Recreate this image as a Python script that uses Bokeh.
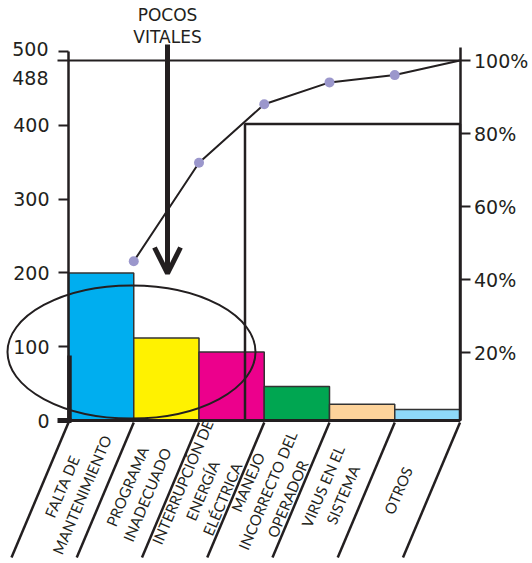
import math
from bokeh.plotting import figure
from bokeh.models import (LinearAxis, Range1d, FixedTicker, PrintfTickFormatter,
                          ColumnDataSource, Arrow, OpenHead)
from bokeh.core.properties import value
from bokeh.embed import file_html
from bokeh.resources import INLINE

# ---------------- data ----------------
categories = ["FALTA DE\nMANTENIMIENTO", "PROGRAMA\nINADECUADO",
              "INTERRUPCIÓN DE\nENERGÍA\nELÉCTRICA", "MANEJO\nINCORRECTO DEL\nOPERADOR",
              "VIRUS EN EL\nSISTEMA", "OTROS"]
counts = [200, 112, 93, 46, 22, 15]
cumulative_pct = [45, 72, 88, 94, 96, 100]
bar_colors = ["#00aeef", "#fff200", "#ec008c", "#00a651", "#fdd39b", "#8ed8f8"]
left_ticks = [0, 100, 200, 300, 400, 500]
total_count = 488
right_ticks = [20, 40, 60, 80, 100]
annotation_text = "POCOS\nVITALES"

# ---------------- layout constants ----------------
W, H = 532, 563
X0PX, XUNIT = 68.0, 65.25          # pixel of x=0, pixels per category
Y0PX, KY = 420.0, 360.0 / 488.0    # pixel of count 0, pixels per count
P0PX, KP = 425.0, 3.65             # pixel of 0 %, pixels per percent
INK = "#231f20"

x_range = Range1d(-X0PX / XUNIT, (W - X0PX) / XUNIT)
y_range = Range1d(-(H - Y0PX) / KY, Y0PX / KY)

p = figure(width=W, height=H, x_range=x_range, y_range=y_range,
           x_axis_type=None, y_axis_type=None, toolbar_location=None,
           output_backend="svg", min_border=0, outline_line_color=None,
           background_fill_color="white", border_fill_color="white")
p.grid.visible = False
p.extra_y_ranges = {"pct": Range1d(-(H - P0PX) / KP, P0PX / KP)}

def px_x(px):
    return (px - X0PX) / XUNIT

def px_y(px):
    return (Y0PX - px) / KY

n = len(counts)
idx = list(range(n))

# bars
src = ColumnDataSource(dict(left=idx, right=[i + 1 for i in idx], top=counts,
                            bottom=[0] * n, color=bar_colors))
p.quad(left="left", right="right", top="top", bottom="bottom", fill_color="color",
       line_color="#333333", line_width=1.5, source=src)

# baseline and slanted category separators
p.segment(x0=[0], y0=[0], x1=[n], y1=[0], line_color=INK, line_width=3)
edges = list(range(n + 1))
p.segment(x0=edges, y0=[px_y(422)] * (n + 1),
          x1=[e - 57 / XUNIT for e in edges], y1=[px_y(557)] * (n + 1),
          line_color=INK, line_width=2.5)

# category labels
p.text(x=[i + 0.05 for i in idx], y=[px_y(490)] * n, text=categories,
       angle=67, angle_units="deg", text_align="center", text_baseline="middle",
       text_font=value("Lato"), text_font_size="15px", text_color=INK,
       text_line_height=1.2)

# 488 / 100 % line
p.segment(x0=[px_x(57)], y0=[total_count], x1=[n], y1=[total_count],
          line_color=INK, line_width=2)

# trivial-many box
p.quad(left=[px_x(244.5)], right=[n], bottom=[0], top=[px_y(123.5)],
       fill_color=None, line_color=INK, line_width=2.5)

# ellipse around the vital few
p.ellipse(x=[px_x(131)], y=[px_y(351.5)], width=248, height=133,
          width_units="screen", height_units="screen",
          fill_color=None, line_color=INK, line_width=2)

# bold zero tick and bar
p.segment(x0=[px_x(57)], y0=[0], x1=[px_x(71)], y1=[0], line_color=INK, line_width=5)
p.segment(x0=[px_x(69)], y0=[0], x1=[px_x(69)], y1=[px_y(355)], line_color=INK, line_width=4.5)

# cumulative percent line
cx = [i + 1 for i in idx]
p.line(x=cx, y=cumulative_pct, y_range_name="pct", line_color=INK, line_width=2)
p.scatter(x=cx[:-1], y=cumulative_pct[:-1], y_range_name="pct", size=10,
          fill_color="#9b97cc", line_color=None)

# arrow + label
ax = px_x(167)
p.add_layout(Arrow(end=OpenHead(size=26, line_width=5, line_color=INK),
                   x_start=ax, y_start=px_y(44), x_end=ax, y_end=px_y(273),
                   line_width=5, line_color=INK))
p.text(x=[ax], y=[px_y(25)], text=[annotation_text], text_align="center",
       text_baseline="middle", text_font=value("DejaVu Sans"), text_font_size="17px",
       text_color=INK, text_line_height=1.1)

# axes
left_axis = LinearAxis(fixed_location=0, ticker=FixedTicker(ticks=left_ticks),
                       bounds=(0, 500), major_label_overrides={500: ""})
right_axis = LinearAxis(fixed_location=n, y_range_name="pct",
                        ticker=FixedTicker(ticks=right_ticks),
                        formatter=PrintfTickFormatter(format="%d%%"),
                        bounds=(1.4, 103.6))
for a in (left_axis, right_axis):
    a.axis_line_color = INK
    a.axis_line_width = 2.5
    a.major_tick_line_color = INK
    a.major_tick_line_width = 2
    a.major_tick_out = 10
    a.major_tick_in = 0
    a.minor_tick_line_color = None
    a.major_label_text_font = "DejaVu Sans"
    a.major_label_text_font_size = "19px"
    a.major_label_text_color = INK
left_axis.major_label_standoff = 9
right_axis.major_label_standoff = 4
p.add_layout(left_axis, "left")
p.add_layout(right_axis, "right")

# labels 500 and 488 placed off their ticks as in the original
p.text(x=[0, 0], y=[500, total_count], text=["500", str(total_count)],
       x_offset=-20, y_offset=[-3, 17], text_align="right", text_baseline="alphabetic",
       text_font=value("DejaVu Sans"), text_font_size="19px", text_color=INK)

open("out.html", "w").write(file_html(p, INLINE))
